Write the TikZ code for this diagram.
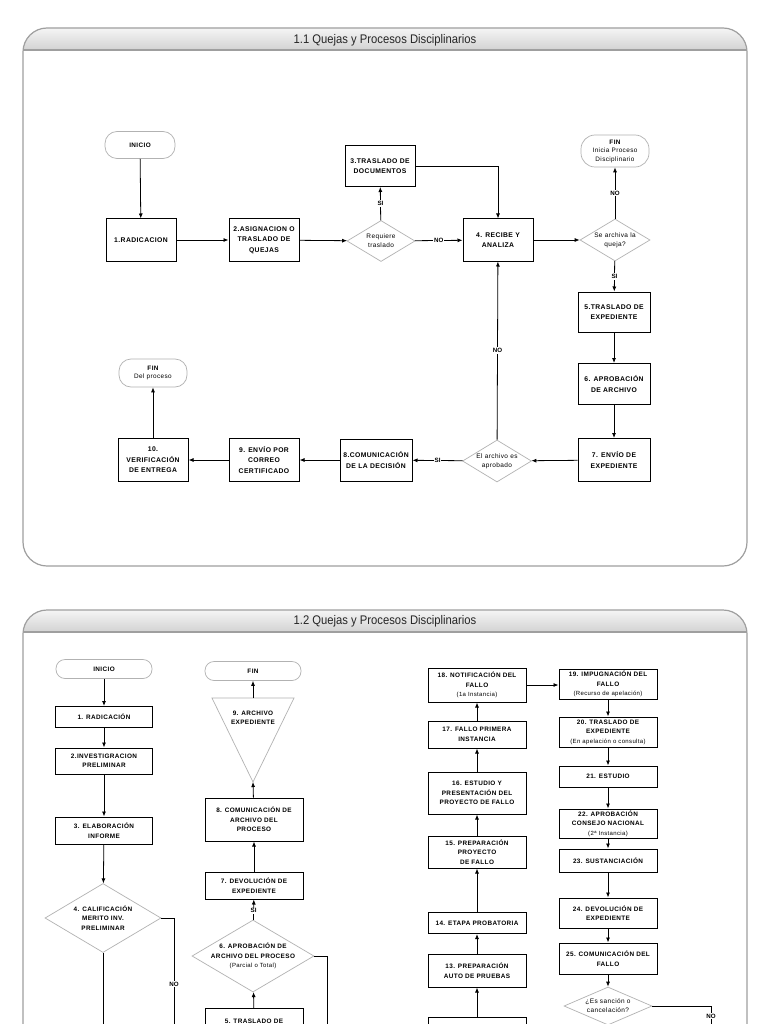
\documentclass[tikz,border=0pt]{standalone}
\usepackage{fontspec}
\setmainfont{Liberation Sans}
\newfontfamily\spaced[LetterSpace=6]{Liberation Sans}
\newfontfamily\titlef[FakeStretch=0.9]{Liberation Sans}
\usetikzlibrary{shapes.geometric,arrows.meta}
\newcommand\smtxt[1]{{\mdseries\fontsize{6}{9}\selectfont #1}}
\tikzset{
  boxA/.style={draw=black, line width=1pt, fill=white, align=center, inner sep=1pt,
    font=\spaced\bfseries\fontsize{6.8}{10.5}\selectfont, minimum width=70pt},
  boxB/.style={draw=black, line width=1pt, fill=white, align=center, inner sep=1pt,
    font=\spaced\bfseries\fontsize{6.4}{9.5}\selectfont, minimum width=98pt},
  termA/.style={draw=gray!60, line width=0.7pt, fill=white, rounded corners=12pt, align=center,
    inner sep=0pt, minimum width=70pt, minimum height=27pt, font=\spaced\fontsize{6.4}{8.5}\selectfont},
  termB/.style={draw=gray!60, line width=0.7pt, fill=white, rounded corners=9pt, align=center,
    inner sep=0pt, minimum width=96pt, minimum height=19pt, font=\spaced\bfseries\fontsize{6.4}{8}\selectfont},
  dshape/.style={diamond, draw=gray!60, line width=0.7pt, fill=white, inner sep=0pt},
  dtxtA/.style={align=center, inner sep=0pt, font=\spaced\fontsize{6.5}{9}\selectfont},
  dtxtB/.style={align=center, inner sep=0pt, font=\spaced\bfseries\fontsize{6.4}{9.5}\selectfont},
  arr/.style={-{Latex[length=5pt,width=4pt]}, line width=0.8pt},
  plain/.style={line width=0.8pt},
  lab/.style={fill=white, inner sep=1pt, font=\bfseries\fontsize{6.2}{7}\selectfont},
  frame/.style={draw=gray!75, line width=1.2pt},
  titlestyle/.style={font=\titlef\fontsize{12.5}{13}\selectfont, text=black!85}
}
\begin{document}
\begin{tikzpicture}[x=1pt,y=-1pt]
\useasboundingbox (0,0) rectangle (768,1024);
\clip (0,0) rectangle (768,1024);
\fill[white] (0,0) rectangle (768,1024);

% ---------- panel 1 frame ----------
\begin{scope}
  \clip[rounded corners=24pt] (23,28) rectangle (747,566);
  \shade[top color=gray!8, bottom color=gray!35] (23,28) rectangle (747,50);
\end{scope}
\draw[frame] (23,50) -- (747,50);
\draw[frame, rounded corners=24pt] (23,28) rectangle (747,566);
\node[titlestyle] (title1) at (385,40) {1.1 Quejas y Procesos Disciplinarios};

% ---------- panel 2 frame ----------
\begin{scope}
  \clip[rounded corners=24pt] (23,610) rectangle (747,1080);
  \shade[top color=gray!8, bottom color=gray!35] (23,610) rectangle (747,632);
\end{scope}
\draw[frame] (23,632) -- (747,632);
\draw[frame, rounded corners=24pt] (23,610) rectangle (747,1080);
\node[titlestyle] (title2) at (385,621) {1.2 Quejas y Procesos Disciplinarios};

% ---------- panel 1 nodes ----------
\node[termA] (ini) at (140,145) {\bfseries INICIO};
\node[boxA, minimum height=42pt] (b1) at (141,240) {1.RADICACION};
\node[boxA, minimum height=43pt] (b2) at (264,240) {2.ASIGNACION O\\TRASLADO DE\\QUEJAS};
\node[dshape, minimum width=68pt, minimum height=41pt] (d1) at (381,241) {};
\node[dtxtA] (d1t) at (d1) {Requiere\\traslado};
\node[boxA, minimum height=41pt] (b3) at (380,166) {3.TRASLADO DE\\DOCUMENTOS};
\node[boxA, minimum height=42pt] (b4) at (498,240) {4. RECIBE Y\\ANALIZA};
\node[dshape, minimum width=70pt, minimum height=42pt] (d2) at (615,240) {};
\node[dtxtA] (d2t) at (d2) {Se archiva la\\queja?};
\node[termA, minimum width=68pt, minimum height=32pt, rounded corners=14pt] (fin1) at (615,151) {\bfseries FIN\\Inicia Proceso\\Disciplinario};
\node[boxA, minimum width=72pt, minimum height=40pt] (b5) at (614,312) {5.TRASLADO DE\\EXPEDIENTE};
\node[boxA, minimum width=72pt, minimum height=41pt] (b6) at (614,384) {6. APROBACIÓN\\DE ARCHIVO};
\node[boxA, minimum width=72pt, minimum height=43pt] (b7) at (614,460) {7. ENVÍO DE\\EXPEDIENTE};
\node[dshape, minimum width=69pt, minimum height=42pt] (d3) at (497,461) {};
\node[dtxtA] (d3t) at (d3) {El archivo es\\aprobado};
\node[boxA, minimum width=72pt, minimum height=42pt] (b8) at (376,460) {8.COMUNICACIÓN\\DE LA DECISIÓN};
\node[boxA, minimum height=43pt] (b9) at (264,460) {9. ENVÍO POR\\CORREO\\CERTIFICADO};
\node[boxA, minimum height=43pt] (b10) at (153,460) {10.\\VERIFICACIÓN\\DE ENTREGA};
\node[termA, minimum width=68pt, minimum height=28pt] (fin2) at (153,373) {\bfseries FIN\\Del proceso};

% ---------- panel 1 connectors ----------
\draw[arr] (ini) -- (b1);
\draw[arr] (b1) -- (b2);
\draw[arr] (b2) -- (d1);
\draw[arr] (d1) -- node[lab] (l1) {SI} (b3);
\draw[arr] (d1) -- node[lab] (l2) {NO} (b4);
\draw[arr] (b3.east) -| (b4.north);
\draw[arr] (b4) -- (d2);
\draw[arr] (d2) -- node[lab] (l3) {NO} (fin1);
\draw[arr] (d2) -- node[lab] (l4) {SI} (b5);
\draw[arr] (b5) -- (b6);
\draw[arr] (b6) -- (b7);
\draw[arr] (b7) -- (d3);
\draw[arr] (d3) -- node[lab] (l5) {NO} (b4);
\draw[arr] (d3) -- node[lab] (l6) {SI} (b8);
\draw[arr] (b8) -- (b9);
\draw[arr] (b9) -- (b10);
\draw[arr] (b10) -- (fin2);

% ---------- panel 2 nodes: left column ----------
\node[termB] (ini2) at (104,669) {INICIO};
\node[boxB, minimum width=97pt, minimum height=21pt] (c1) at (104,717) {1. RADICACIÓN};
\node[boxB, minimum width=97pt, minimum height=26pt] (c2) at (104,761) {2.INVESTIGRACION\\PRELIMINAR};
\node[boxB, minimum width=97pt, minimum height=27pt] (c3) at (104,830.5) {3. ELABORACIÓN\\INFORME};
\node[dshape, minimum width=116pt, minimum height=69pt] (d4) at (103,918) {};
\node[dtxtB] (d4t) at (d4) {4. CALIFICACIÓN\\MERITO INV.\\PRELIMINAR};
\coordinate (offA) at (103,1045);
\coordinate (offB) at (174,1045);

% ---------- middle column ----------
\node[termB] (fin3) at (253,671) {FIN};
\coordinate (triL) at (212,698);
\coordinate (triR) at (294,698);
\coordinate (triA) at (253,782);
\coordinate (triT) at (253,698);
\draw[draw=gray!60, line width=0.7pt, fill=white] (triL) -- (triR) -- (triA) -- cycle;
\node[dtxtB] (t9) at (253,718) {9. ARCHIVO\\EXPEDIENTE};
\node[boxB, minimum height=43pt] (m8) at (254,819.5) {8. COMUNICACIÓN DE\\ARCHIVO DEL\\PROCESO};
\node[boxB, minimum height=27pt] (m7) at (254,885.5) {7. DEVOLUCIÓN DE\\EXPEDIENTE};
\node[dshape, minimum width=122pt, minimum height=72pt] (d6) at (253,956) {};
\node[dtxtB] (d6t) at (d6) {6. APROBACIÓN DE\\ARCHIVO DEL PROCESO\\\smtxt{(Parcial o Total)}};
\node[boxB, anchor=north, minimum height=26pt] (m5) at (254,1008) {5. TRASLADO DE};
\coordinate (offC) at (327,1045);

% ---------- right columns ----------
\node[boxB, minimum height=34pt] (r18) at (477,685) {18. NOTIFICACIÓN DEL\\FALLO\\\smtxt{(1a Instancia)}};
\node[boxB, minimum height=27pt] (r17) at (477,734.5) {17. FALLO PRIMERA\\INSTANCIA};
\node[boxB, minimum height=42pt] (r16) at (477,793) {16. ESTUDIO Y\\PRESENTACIÓN DEL\\PROYECTO DE FALLO};
\node[boxB, minimum height=32pt] (r15) at (477,852) {15. PREPARACIÓN\\PROYECTO\\DE FALLO};
\node[boxB, minimum height=21pt] (r14) at (477,923) {14. ETAPA PROBATORIA};
\node[boxB, minimum height=33pt] (r13) at (477,970.5) {13. PREPARACIÓN\\AUTO DE PRUEBAS};
\node[boxB, anchor=north, minimum height=30pt] (r12) at (477,1017) {};

\node[boxB, minimum height=30pt] (r19) at (608,684) {19. IMPUGNACIÓN DEL\\FALLO\\\smtxt{(Recurso de apelación)}};
\node[boxB, minimum height=30pt] (r20) at (608,732) {20. TRASLADO DE\\EXPEDIENTE\\\smtxt{(En apelación o consulta)}};
\node[boxB, minimum height=21pt] (r21) at (608,776.5) {21. ESTUDIO};
\node[boxB, minimum height=29pt] (r22) at (608,823.5) {22. APROBACIÓN\\CONSEJO NACIONAL\\\smtxt{(2ª Instancia)}};
\node[boxB, minimum height=23pt] (r23) at (608,860.5) {23. SUSTANCIACIÓN};
\node[boxB, minimum height=30pt] (r24) at (608,913) {24. DEVOLUCIÓN DE\\EXPEDIENTE};
\node[boxB, minimum height=31pt] (r25) at (608,958.5) {25. COMUNICACIÓN DEL\\FALLO};
\node[dshape, minimum width=88pt, minimum height=38pt] (dq) at (608,1006) {};
\node[dtxtA] (dqt) at (dq) {¿Es sanción o\\cancelación?};
\coordinate (offD) at (711,1045);

% ---------- panel 2 connectors ----------
\draw[arr] (ini2) -- (c1);
\draw[arr] (c1) -- (c2);
\draw[arr] (c2) -- (c3);
\draw[arr] (c3) -- (d4);
\draw[plain] (d4.south) -- (offA);
\draw[plain] (d4.east) -| node[lab, pos=0.76] (l7) {NO} (offB);

\draw[arr] (m5) -- (d6);
\draw[arr] (d6) -- node[lab, pos=0.45] (l8) {SI} (m7);
\draw[arr] (m7) -- (m8);
\draw[arr] (m8) -- (triA);
\draw[arr] (triT) -- (fin3);
\draw[plain] (d6.east) -| (offC);

\draw[arr] (r12) -- (r13);
\draw[arr] (r13) -- (r14);
\draw[arr] (r14) -- (r15);
\draw[arr] (r15) -- (r16);
\draw[arr] (r16) -- (r17);
\draw[arr] (r17) -- (r18);
\draw[arr] (r18.east) -- (r18.east -| r19.west);
\draw[arr] (r19) -- (r20);
\draw[arr] (r20) -- (r21);
\draw[arr] (r21) -- (r22);
\draw[arr] (r22) -- (r23);
\draw[arr] (r23) -- (r24);
\draw[arr] (r24) -- (r25);
\draw[arr] (r25) -- (dq);
\draw[plain] (dq.east) -| node[lab, pos=0.63] (l9) {NO} (offD);
\end{tikzpicture}
\end{document}
